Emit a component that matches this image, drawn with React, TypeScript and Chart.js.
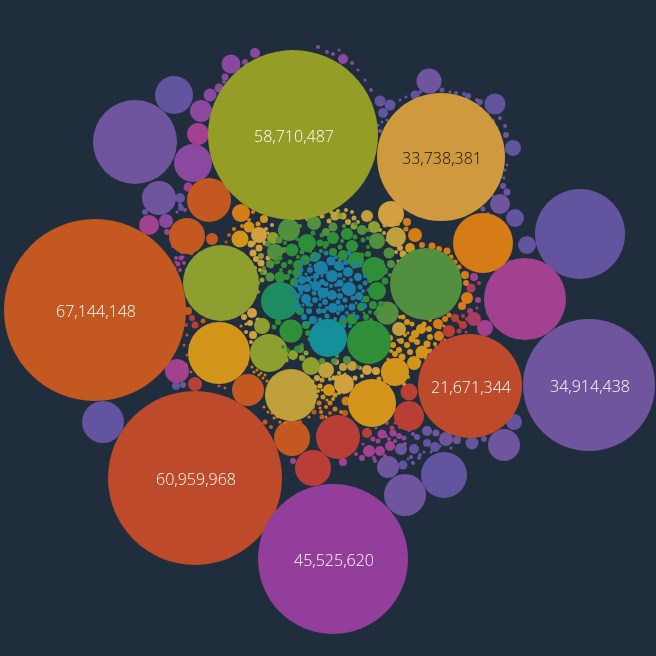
import React, { useEffect, useRef } from "react";
import { Chart, registerables } from "chart.js";

Chart.register(...registerables);

type B = [number, number, number];

const BG = "#202d3d";
const FONT = '"Open Sans", "Noto Sans", sans-serif';

// Labelled leaders: [x, y, r], value, colour, text colour
const leaders: B[] = [
  [293, 135, 85], [441, 157, 64], [95, 310, 91], [195, 478, 87],
  [333, 559, 75], [589, 385, 66], [470, 386, 52],
];
const leaderValues = [58710487, 33738381, 67144148, 60959968, 45525620, 34914438, 21671344];
const leaderColours = ["#949d26", "#cf9a3d", "#c45821", "#bc4a2b", "#933e9b", "#6f559d", "#bc4a2b"];
const leaderText = ["#ffffff", "#111111", "#ffffff", "#ffffff", "#ffffff", "#ffffff", "#ffffff"];

const blue: B[] = [
  [321, 268, 7], [332, 276, 6], [339, 266, 5], [331, 261, 4.5], [348, 272, 5], [349, 289, 7], [333, 308, 5], [332, 295, 5],
  [323, 293, 5.5], [306, 299, 5], [316, 286, 5], [307, 288, 4], [301, 288, 3.5], [302, 280, 4], [313, 320, 4], [319, 311, 3],
  [309, 311, 3], [340, 283, 3.5], [341, 308, 3.5], [352, 307, 3.5], [358, 277, 4], [359, 296, 4], [340, 296, 3], [322, 282, 3],
  [316, 276, 3], [310, 270, 3], [308, 279, 3], [325, 302, 3], [315, 300, 3], [345, 300, 2.5], [353, 298, 2.5], [346, 262, 3],
  [318, 256, 3], [326, 253, 2.5], [301, 270, 2.5], [296, 285, 2.5], [298, 296, 2.5], [298, 306, 3], [304, 317, 3], [320, 320, 2.5],
  [343, 318, 3], [360, 287, 2.5], [365, 283, 2.5], [364, 306, 3], [357, 317, 2.5], [327, 316, 2.5], [335, 319, 2], [312, 259, 2.5],
  [303, 262, 2.5], [349, 253, 2.5], [360, 265, 2.5], [340, 275, 2.5], [326, 284, 2.5], [314, 293, 2.5], [300, 312, 2], [316, 266, 2.5],
  [326, 272, 2], [338, 302, 2.5], [351, 280, 2], [324, 311, 2.5], [308, 304, 2.5], [311, 283, 2], [315, 280, 1.5], [327, 289, 1.5],
  [336, 285, 2], [344, 279, 1.5], [343, 289, 2], [339, 290, 1.5], [336, 257, 2], [343, 268, 1.5], [354, 262, 2], [354, 267, 2],
  [310, 265, 1.5], [306, 274, 1.5], [312, 277, 1.5], [301, 274, 1.5], [296, 277, 2], [293, 290, 2], [293, 298, 1.5], [301, 293, 2],
  [311, 305, 2], [320, 305, 2], [327, 308, 2], [303, 305, 1.5], [346, 306, 1.5], [347, 313, 2], [338, 313, 2], [354, 313, 1.5],
  [362, 301, 1.5], [356, 303, 1.5], [363, 291, 2], [368, 290, 1.5], [365, 276, 2], [320, 299, 1.5], [331, 286, 2], [322, 276, 1.5],
];
const teal: B[] = [[328, 338, 19], [309, 323, 2], [344, 326, 2], [304, 324, 2], [350, 326, 2]];
const seaGreen: B[] = [[280, 301, 19]];
const green: B[] = [
  [369, 342, 22], [291, 331, 11.5], [307, 243, 9], [292, 250, 6.5], [333, 238, 6], [347, 234, 6], [352, 246, 6], [356, 260, 8],
  [374, 269, 12], [377, 291, 9], [298, 265, 5], [305, 260, 5], [315, 257, 5], [343, 255, 5], [333, 252, 4], [320, 243, 3.5],
  [297, 273, 4.5], [294, 282, 4], [287, 277, 3], [280, 277, 5.5], [300, 311, 4], [306, 325, 4], [352, 319, 5.5], [343, 321, 4],
  [361, 307, 4], [366, 299, 3.5], [373, 305, 4], [385, 281, 3.5], [370, 280, 3], [368, 254, 3], [362, 255, 2.5], [284, 265, 3],
  [290, 262, 2.5], [290, 272, 2.5], [302, 252, 2.5], [326, 244, 3], [340, 247, 2.5], [342, 241, 2], [366, 317, 3], [359, 325, 3],
  [308, 333, 3], [278, 322, 3], [274, 327, 2.5], [297, 349, 3], [310, 339, 2.5], [381, 304, 3], [376, 313, 2.5], [385, 272, 2.5],
  [297, 239, 2], [313, 233, 2.5], [322, 235, 2.5], [355, 237, 2.5], [363, 240, 2.5], [368, 247, 2], [368, 238, 2], [285, 243, 2],
  [280, 258, 2.5], [276, 262, 2.5], [281, 270, 2], [325, 247, 2], [340, 260, 2], [321, 251, 2], [310, 251, 2], [298, 257, 2],
  [371, 320, 2], [366, 325, 1.5], [370, 312, 2], [364, 313, 1.5], [283, 347, 2], [288, 350, 2], [302, 345, 2], [317, 341, 2],
];
const leaf: B[] = [
  [426, 284, 36], [387, 313, 11.5], [289, 230, 11], [275, 252, 8], [377, 241, 8], [314, 223, 7], [333, 227, 4.5],
  [326, 232, 4], [362, 230, 5], [389, 253, 5.5], [391, 264, 4], [270, 277, 4.5], [270, 264, 4], [279, 240, 3.5], [284, 250, 3],
  [268, 244, 3], [271, 266, 2.5], [395, 284, 3], [347, 360, 4], [334, 361, 3], [322, 361, 3], [300, 349, 4], [300, 226, 2],
  [344, 226, 2], [356, 224, 2], [264, 268, 2], [262, 273, 2], [368, 230, 2], [382, 262, 2], [386, 270, 2], [390, 275, 2],
  [278, 262, 2], [326, 352, 2], [337, 356, 2], [358, 367, 2],
];
const olive: B[] = [
  [221, 283, 38], [269, 353, 19], [262, 326, 8], [293, 355, 5], [311, 366, 9], [374, 227, 6], [273, 238, 6], [261, 256, 3],
  [302, 358, 3], [306, 353, 2.5], [280, 344, 3], [286, 360, 2.5], [264, 272, 3], [262, 280, 2.5], [354, 226, 3.5], [340, 216, 3],
  [307, 219, 2], [299, 218, 2], [394, 290, 2], [397, 296, 2], [266, 288, 0.1], [258, 283, 2], [258, 292, 2],
];
const gold: B[] = [
  [291, 395, 26], [396, 237, 10], [399, 329, 7], [326, 370, 8], [352, 366, 5], [343, 367, 4], [336, 362, 3], [367, 216, 6],
  [335, 216, 4.5], [343, 216, 3.5], [348, 222, 3], [329, 221, 2.5], [322, 216, 2.5], [354, 218, 2.5], [385, 225, 2.5], [398, 224, 2],
  [338, 211, 2], [331, 212, 2], [346, 210, 2], [352, 212, 2], [326, 212, 1.5], [358, 222, 2], [316, 213, 1.5], [310, 214, 1.5],
  [380, 230, 2], [384, 233, 2], [387, 240, 1.5], [339, 373, 2], [345, 374, 1.5], [360, 368, 2], [330, 379, 2],
];
const sand: B[] = [
  [391, 214, 13], [259, 235, 8], [251, 244, 3.5], [259, 248, 3.5], [253, 253, 3.5], [256, 259, 3], [261, 263, 3.5], [268, 258, 2.5],
  [344, 384, 10], [367, 370, 5], [376, 371, 4], [252, 313, 5], [250, 323, 3], [244, 317, 3], [258, 320, 2.5], [253, 335, 4],
  [254, 243, 2], [265, 243, 2.5], [400, 248, 3], [396, 252, 2], [403, 254, 3.5], [334, 378, 2.5], [317, 378, 3], [312, 382, 2.5],
  [320, 386, 2.5], [355, 378, 2.5], [362, 376, 2], [266, 229, 2], [272, 225, 2], [268, 233, 1.5], [250, 262, 2], [255, 268, 2],
  [260, 270, 2], [257, 276, 1.5], [246, 332, 2], [257, 329, 2], [246, 324, 1.5], [251, 342, 2], [406, 258, 2], [402, 262, 1.5],
  [398, 261, 1.5],
];
const amber: B[] = [
  [219, 353, 31], [372, 403, 24], [395, 372, 14], [240, 239, 8.5], [410, 248, 5], [329, 390, 6], [414, 363, 7], [422, 352, 6.5],
  [399, 350, 3], [402, 357, 3.5], [395, 354, 3], [407, 345, 3], [410, 352, 3], [417, 342, 3], [401, 341, 3], [393, 345, 3],
  [412, 339, 3.5], [390, 338, 3], [421, 329, 5], [415, 334, 4], [412, 324, 2.5], [407, 322, 3], [403, 317, 2.5], [400, 317, 2],
  [424, 324, 2.5], [429, 329, 3], [249, 227, 5.5], [264, 219, 4], [258, 224, 2.5], [427, 344, 3.5], [430, 337, 3],
  [322, 380, 2.5], [315, 387, 2.5], [323, 397, 2.5], [316, 396, 2.5], [335, 395, 2.5], [339, 393, 2], [357, 386, 2], [379, 379, 2.5],
  [385, 381, 2], [388, 387, 2], [404, 384, 2], [408, 377, 2], [402, 378, 2.5], [405, 335, 2], [398, 340, 1.5], [418, 356, 2],
  [426, 358, 2], [430, 351, 2.5], [435, 344, 2], [408, 333, 1.5], [391, 351, 2], [388, 359, 1.5], [404, 364, 1.5], [420, 362, 1.5],
  [433, 357, 1.5], [310, 393, 2], [313, 400, 2], [318, 391, 2], [327, 400, 1.5], [333, 399, 2], [354, 398, 2], [358, 390, 2],
  [307, 387, 1.5], [306, 378, 2], [322, 390, 1.5], [337, 377, 2], [308, 403, 1.5], [302, 408, 1.5], [320, 408, 1.5], [401, 368, 1.5],
];
const orange: B[] = [
  [483, 243, 30], [241, 213, 9], [415, 235, 7], [407, 222, 4], [406, 229, 2.5], [422, 245, 3], [432, 246, 3.5], [439, 249, 3],
  [447, 251, 3.5], [451, 257, 2.5], [455, 262, 2.5], [459, 267, 2.5], [465, 275, 4], [466, 283, 3], [467, 298, 6], [462, 306, 4],
  [445, 319, 3], [449, 315, 2.5], [438, 324, 5], [439, 336, 5], [430, 320, 2], [346, 401, 4.5], [330, 403, 2.5], [326, 407, 2],
  [319, 403, 2.5], [313, 407, 2], [321, 412, 2], [335, 409, 2.5], [341, 412, 2], [249, 220, 2], [253, 212, 2], [242, 226, 2],
  [234, 229, 2], [252, 367, 1.5], [257, 370, 1.5], [261, 373, 1.5], [265, 375, 1.5], [247, 364, 1.5], [237, 330, 1.5], [241, 326, 1.5],
  [326, 417, 1.5], [309, 417, 1.5], [301, 414, 1.5], [285, 423, 1.5], [277, 417, 1.5], [272, 413, 1.5], [254, 372, 1.5], [259, 375, 1.5],
  [244, 360, 1.5], [263, 378, 1.5], [267, 381, 1.5], [264, 407, 1.5], [268, 412, 1.5], [274, 418, 1.5], [280, 422, 1.5], [440, 328, 1.5],
  [444, 326, 1.5], [436, 347, 1.5], [441, 344, 1.5], [445, 340, 1.5],
];
const burnt: B[] = [
  [209, 200, 22], [187, 236, 18], [248, 390, 16], [292, 438, 18], [212, 239, 6], [188, 311, 4], [203, 321, 2.5], [191, 252, 3],
  [187, 355, 1.5], [190, 345, 1.5], [219, 386, 1.5], [225, 388, 1.5], [265, 422, 2.5], [271, 427, 2], [300, 422, 2],
  [322, 417, 2.5], [345, 413, 3], [314, 412, 2.5], [229, 235, 2], [226, 242, 1.5], [306, 412, 1.5], [294, 419, 1.5], [330, 413, 2],
  [187, 335, 1.5], [184, 345, 1.5], [186, 365, 1.5], [191, 372, 1.5],
];
const crimson: B[] = [
  [338, 437, 22], [313, 468, 18], [409, 416, 15], [409, 392, 8.5], [367, 433, 5], [195, 384, 7], [449, 331, 6], [463, 325, 4],
  [455, 318, 4], [395, 410, 2], [351, 422, 2], [195, 325, 3.5], [192, 318, 3], [442, 342, 2], [459, 322, 2], [467, 319, 2],
];
const rose: B[] = [
  [474, 319, 7], [471, 288, 4.5], [470, 311, 3], [459, 331, 2.5], [447, 343, 2], [440, 346, 2], [392, 428, 2.5], [186, 325, 2],
  [475, 268, 2], [479, 283, 2], [463, 316, 2], [466, 332, 1.5], [477, 308, 1.5], [395, 423, 1.5],
];
const magenta: B[] = [
  [525, 299, 41], [177, 371, 12], [198, 134, 11], [149, 225, 10], [485, 328, 8], [474, 277, 4], [478, 300, 3], [369, 451, 6],
  [380, 451, 5], [390, 446, 5], [382, 434, 4.5], [393, 433, 3.5], [373, 439, 2.5], [378, 441, 2.5], [399, 436, 3], [343, 462, 4],
  [293, 461, 3], [362, 458, 3], [356, 454, 2], [181, 258, 2.5], [176, 258, 2], [178, 264, 2.5], [184, 263, 2], [180, 270, 2],
  [187, 270, 2], [192, 267, 1.5], [175, 268, 1.5], [483, 268, 2], [488, 312, 2], [387, 423, 2], [400, 427, 2], [188, 187, 4.5],
  [167, 232, 3], [376, 428, 1.5], [389, 439, 2], [363, 444, 1.5], [385, 456, 2], [374, 458, 2],
];
const violet: B[] = [
  [193, 163, 19], [201, 111, 11], [231, 64, 9.5], [210, 95, 6.5], [219, 88, 4.5], [225, 77, 3.5], [245, 62, 3], [224, 82, 2],
  [255, 53, 5], [343, 59, 5], [166, 221, 7], [182, 252, 2], [176, 262, 1.5], [375, 461, 2],
  [386, 436, 2], [404, 438, 2.5], [413, 434, 2], [327, 52, 2], [333, 54, 2], [318, 47, 2], [339, 50, 1.5], [352, 63, 2], [358, 70, 1.5],
  [365, 80, 1.5], [371, 90, 2], [180, 205, 2], [185, 210, 2], [177, 212, 1.5], [173, 246, 2], [179, 247, 2], [178, 240, 1.5], [183, 257, 1.5],
  [395, 441, 2], [405, 444, 2], [409, 430, 2],
];
const purple: B[] = [
  [135, 142, 42], [159, 198, 17], [429, 81, 12.5], [405, 495, 21], [388, 467, 11], [504, 445, 16], [401, 449, 6], [446, 439, 7],
  [500, 204, 10], [183, 385, 3], [427, 431, 5], [436, 433, 3.5], [457, 440, 4], [414, 426, 2.5], [417, 437, 3],
  [420, 455, 2], [411, 457, 2], [413, 463, 2], [506, 135, 3], [507, 192, 3.5], [503, 186, 3], [483, 209, 2.5], [488, 214, 2],
  [380, 131, 2], [383, 136, 1.5], [378, 125, 1.5], [477, 100, 2], [488, 114, 1.5], [493, 121, 2], [503, 159, 1.5], [505, 170, 1.5],
  [500, 176, 2.5], [504, 178, 1.5], [500, 118, 2], [505, 126, 2], [376, 131, 1.5], [387, 120, 1.5], [382, 122, 1.5], [400, 100, 1.5],
  [406, 97, 1.5], [434, 91, 1.5], [450, 92, 1.5], [497, 128, 1.5], [502, 142, 1.5], [504, 152, 1.5], [507, 165, 1.5], [493, 196, 1.5],
  [440, 446, 1.5], [451, 448, 1.5], [424, 452, 1.5], [431, 452, 1.5],
];
const indigo: B[] = [
  [580, 234, 45], [174, 95, 19], [103, 422, 21], [444, 475, 23], [495, 104, 10.5], [513, 148, 8], [515, 218, 9], [527, 245, 9],
  [514, 422, 8], [472, 443, 6.5], [414, 449, 5], [435, 447, 5], [427, 443, 4], [403, 465, 4.5], [484, 439, 3], [176, 386, 4],
  [380, 101, 5.5], [390, 105, 5.5], [383, 113, 5], [415, 95, 4.5], [468, 96, 3], [480, 102, 3], [442, 90, 2.5], [456, 93, 2],
  [464, 94, 2], [420, 92, 2], [180, 198, 5], [181, 208, 3], [145, 212, 3], [419, 458, 2], [408, 459, 1.5], [510, 262, 2],
  [505, 270, 2], [500, 278, 1.5],
];

const groups: { data: B[]; colour: string }[] = [
  { data: blue, colour: "#1c7fa8" },
  { data: teal, colour: "#15909a" },
  { data: seaGreen, colour: "#1f8b60" },
  { data: green, colour: "#2f8f38" },
  { data: leaf, colour: "#528f3f" },
  { data: olive, colour: "#8c9f2f" },
  { data: gold, colour: "#bfa03a" },
  { data: sand, colour: "#d3a040" },
  { data: amber, colour: "#d2951a" },
  { data: orange, colour: "#d57c16" },
  { data: burnt, colour: "#c45821" },
  { data: crimson, colour: "#b93f36" },
  { data: rose, colour: "#ab3c66" },
  { data: magenta, colour: "#a2418f" },
  { data: violet, colour: "#8a48a0" },
  { data: purple, colour: "#6f559d" },
  { data: indigo, colour: "#62549f" },
];

const toPoints = (list: B[]) => list.map(([x, y, r]) => ({ x, y, r }));

const valueLabels = {
  id: "valueLabels",
  afterDatasetsDraw(chart: any) {
    const { ctx } = chart;
    const meta = chart.getDatasetMeta(0);
    ctx.save();
    ctx.font = `300 16px ${FONT}`;
    ctx.textAlign = "center";
    ctx.textBaseline = "middle";
    meta.data.forEach((el: any, i: number) => {
      ctx.fillStyle = leaderText[i];
      ctx.fillText(leaderValues[i].toLocaleString("en-US"), el.x + 1, el.y + 2.5);
    });
    ctx.restore();
  },
};

export default function App() {
  const ref = useRef<HTMLCanvasElement>(null);
  useEffect(() => {
    if (!ref.current) return;
    const chart = new Chart(ref.current, {
      type: "bubble",
      data: {
        datasets: [
          { data: toPoints(leaders), backgroundColor: leaderColours, borderWidth: 0, clip: false },
          ...groups.map((g) => ({
            data: toPoints(g.data),
            backgroundColor: g.colour,
            borderWidth: 0,
            clip: false,
          })),
        ],
      },
      options: {
        animation: false,
        responsive: false,
        events: [],
        layout: { padding: 0, autoPadding: false },
        plugins: { legend: { display: false }, tooltip: { enabled: false } },
        scales: {
          x: { type: "linear", display: false, min: 0, max: 656 },
          y: { type: "linear", display: false, min: 0, max: 656, reverse: true },
        },
      } as any,
      plugins: [valueLabels],
    } as any);
    return () => chart.destroy();
  }, []);
  return (
    <div style={{ position: "absolute", left: 0, top: 0, width: 656, height: 656, background: BG }}>
      <canvas ref={ref} width={656} height={656} style={{ display: "block" }} />
    </div>
  );
}
